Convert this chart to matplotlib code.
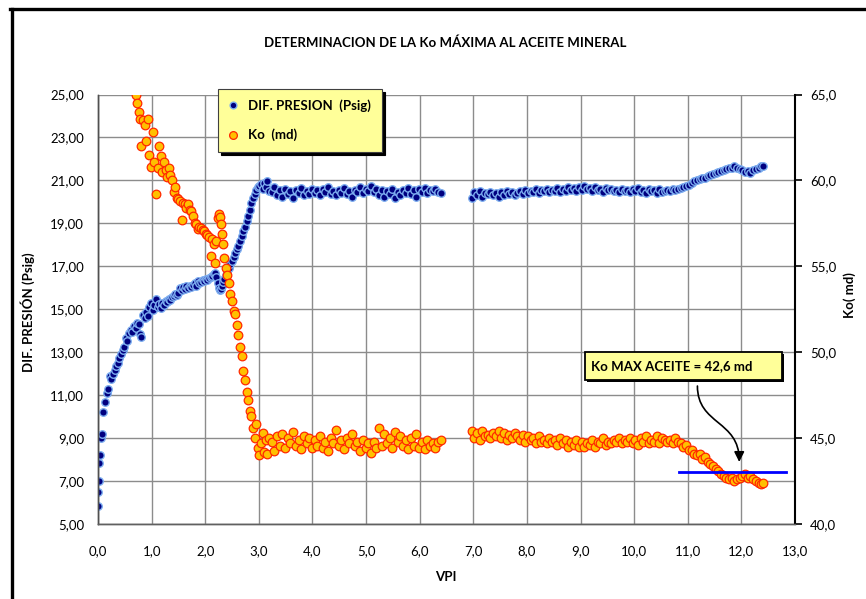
import matplotlib
matplotlib.use("Agg")
import matplotlib.pyplot as plt
from matplotlib.lines import Line2D
from matplotlib.patches import Rectangle, FancyArrowPatch
from matplotlib.path import Path
from matplotlib.ticker import FuncFormatter, FixedLocator

nan = float("nan")

# --- datos ---
# tramo 1 (0 - 6,4 VPI)
vpi_a = [
    0.00, 0.005, 0.01, 0.02, 0.03, 0.05, 0.07, 0.10, 0.13, 0.16,
    0.19, 0.22, 0.25, 0.28, 0.31, 0.34, 0.37, 0.40, 0.43, 0.46,
    0.49, 0.52, 0.55, 0.58, 0.61, 0.64, 0.67, 0.70, 0.73, 0.76,
    0.79, 0.81, 0.84, 0.87, 0.90, 0.93, 0.96, 0.99, 1.02, 1.05,
    1.08, 1.11, 1.14, 1.17, 1.20, 1.23, 1.26, 1.29, 1.32, 1.35,
    1.38, 1.41, 1.44, 1.47, 1.50, 1.53, 1.56, 1.59, 1.62, 1.65,
    1.68, 1.71, 1.74, 1.77, 1.80, 1.83, 1.86, 1.89, 1.92, 1.95,
    1.98, 2.01, 2.04, 2.07, 2.10, 2.13, 2.16, 2.19, 2.21, 2.23,
    2.25, 2.27, 2.29, 2.31, 2.33, 2.35, 2.38, 2.41, 2.44, 2.47,
    2.50, 2.53, 2.56, 2.59, 2.62, 2.65, 2.68, 2.71, 2.74, 2.77,
    2.80, 2.83, 2.86, 2.89, 2.92, 2.95, 2.98, 3.01, 3.04, 3.07,
    3.10, 3.13, 3.16, 3.19, 3.24, 3.29, 3.34, 3.39, 3.44, 3.49,
    3.54, 3.59, 3.64, 3.69, 3.74, 3.79, 3.84, 3.89, 3.94, 3.99,
    4.04, 4.09, 4.14, 4.19, 4.24, 4.29, 4.34, 4.39, 4.44, 4.49,
    4.54, 4.59, 4.64, 4.69, 4.74, 4.79, 4.84, 4.89, 4.94, 4.99,
    5.04, 5.09, 5.14, 5.19, 5.24, 5.29, 5.34, 5.39, 5.44, 5.49,
    5.54, 5.59, 5.64, 5.69, 5.74, 5.79, 5.84, 5.89, 5.94, 5.99,
    6.04, 6.09, 6.14, 6.19, 6.24, 6.29, 6.34, 6.39,
]
dp_a = [
    5.85, 6.5, 7.0, 7.85, 8.2, 9.0, 9.2, 10.2, 10.7, 11.1,
    11.3, 11.9, 11.75, 12.0, 12.15, 12.35, 12.5, 12.75, 12.9, 13.1,
    13.25, 13.65, 13.5, 13.9, 14.05, 13.95, 14.2, 14.15, 14.35, 14.3,
    13.85, 13.7, 14.75, 14.6, 14.85, 14.7, 15.1, 15.3, 14.95, 15.2,
    15.5, 15.1, 15.25, 15.05, 15.3, 15.2, 15.4, 15.35, 15.5, 15.45,
    15.55, 15.6, 15.7, 15.65, 15.75, 16.0, 15.9, 16.05, 15.95, 16.1,
    16.0, 16.1, 16.05, 16.15, 16.2, 16.1, 16.3, 16.2, 16.25, 16.35,
    16.3, 16.4, 16.35, 16.45, 16.5, 16.55, 16.65, 16.7, 16.5, 16.2,
    16.0, 15.9, 15.95, 16.1, 16.25, 16.4, 16.6, 16.75, 16.9, 17.1,
    17.25, 17.45, 17.6, 17.8, 17.95, 18.2, 18.4, 18.65, 18.85, 19.1,
    19.35, 19.6, 19.95, 20.2, 20.35, 20.55, 20.7, 20.75, 20.85, 20.6,
    20.9, 20.7, 20.95, 20.5, 20.45, 20.7, 20.3, 20.55, 20.25, 20.6,
    20.35, 20.5, 20.2, 20.55, 20.4, 20.65, 20.3, 20.5, 20.35, 20.6,
    20.4, 20.55, 20.3, 20.6, 20.45, 20.7, 20.35, 20.5, 20.3, 20.55,
    20.4, 20.65, 20.35, 20.5, 20.25, 20.55, 20.45, 20.7, 20.4, 20.6,
    20.5, 20.75, 20.45, 20.6, 20.3, 20.55, 20.25, 20.5, 20.35, 20.6,
    20.2, 20.45, 20.3, 20.55, 20.4, 20.65, 20.35, 20.55, 20.25, 20.6,
    20.45, 20.65, 20.4, 20.55, 20.5, 20.6, 20.45, 20.4,
]
ko_a = [
    nan, nan, nan, nan, nan, nan, nan, nan, nan, nan,
    nan, nan, nan, nan, nan, nan, nan, nan, nan, nan,
    nan, nan, nan, nan, nan, nan, nan, 65.0, 64.5, 64.0,
    63.6, 62.0, 63.5, 63.2, 62.3, 63.6, 61.5, 60.8, 62.8, 61.1,
    59.2, 60.7, 62.0, 61.4, 60.5, 61.1, 60.6, 60.2, 60.7, 60.3,
    60.0, 59.3, 59.6, 59.0, 58.9, 58.8, 57.7, 58.7, 58.6, 58.4,
    58.6, 58.3, 58.2, 57.9, 57.5, 57.45, 57.2, 57.3, 57.25, 57.1,
    57.05, 56.9, 56.8, 56.7, 55.6, 56.6, 56.3, 55.2, 56.5, 57.8,
    58.05, 57.85, 57.45, 56.9, 56.3, 55.5, 54.9, 54.5, 54.0, 53.4,
    53.0, 52.4, 52.2, 51.6, 51.0, 50.3, 49.8, 48.9, 48.4, 47.7,
    47.2, 46.6, 46.3, 45.6, 45.0, 45.8, 44.4, 44.0, 44.7, 45.3,
    44.2, 44.9, 44.1, 45.0, 44.8, 44.25, 45.1, 44.55, 45.25, 44.45,
    45.0, 44.7, 45.35, 44.55, 44.9, 44.35, 45.1, 44.7, 45.0, 44.45,
    44.9, 44.55, 45.1, 44.45, 44.8, 44.25, 45.0, 44.7, 45.5, 44.55,
    44.9, 44.35, 45.0, 44.7, 45.25, 44.55, 44.8, 44.25, 44.9, 44.45,
    44.7, 44.15, 44.8, 44.45, 45.6, 44.55, 45.25, 44.7, 45.0, 44.45,
    45.35, 44.8, 45.1, 44.55, 44.9, 44.35, 45.0, 44.55, 45.25, 44.45,
    44.8, 44.35, 44.9, 44.55, 44.7, 44.45, 44.8, 44.9,
]

# tramo 2 (7,0 - 12,4 VPI)
vpi_b = [
    6.97, 7.02, 7.07, 7.12, 7.17, 7.22, 7.27, 7.32, 7.37, 7.42,
    7.47, 7.52, 7.57, 7.62, 7.67, 7.72, 7.77, 7.82, 7.87, 7.92,
    7.97, 8.02, 8.07, 8.12, 8.17, 8.22, 8.27, 8.32, 8.37, 8.42,
    8.47, 8.52, 8.57, 8.62, 8.67, 8.72, 8.77, 8.82, 8.87, 8.92,
    8.97, 9.02, 9.07, 9.12, 9.17, 9.22, 9.27, 9.32, 9.37, 9.42,
    9.47, 9.52, 9.57, 9.62, 9.67, 9.72, 9.77, 9.82, 9.87, 9.92,
    9.97, 10.02, 10.07, 10.12, 10.17, 10.22, 10.27, 10.32, 10.37, 10.42,
    10.47, 10.52, 10.57, 10.62, 10.67, 10.72, 10.77, 10.82, 10.87, 10.92,
    10.97, 11.02, 11.07, 11.12, 11.17, 11.22, 11.27, 11.32, 11.37, 11.42,
    11.47, 11.52, 11.57, 11.62, 11.67, 11.72, 11.77, 11.82, 11.87, 11.92,
    11.97, 12.02, 12.07, 12.12, 12.17, 12.22, 12.27, 12.32, 12.37, 12.41,
]
dp_b = [
    20.2, 20.45, 20.3, 20.5, 20.25, 20.4, 20.35, 20.45, 20.3, 20.4,
    20.25, 20.45, 20.3, 20.5, 20.35, 20.45, 20.3, 20.4, 20.5, 20.35,
    20.55, 20.4, 20.5, 20.45, 20.6, 20.4, 20.55, 20.5, 20.6, 20.45,
    20.55, 20.5, 20.65, 20.45, 20.6, 20.5, 20.7, 20.55, 20.65, 20.5,
    20.7, 20.55, 20.75, 20.6, 20.65, 20.5, 20.7, 20.55, 20.6, 20.45,
    20.65, 20.55, 20.6, 20.5, 20.55, 20.45, 20.6, 20.5, 20.55, 20.45,
    20.6, 20.5, 20.65, 20.45, 20.55, 20.4, 20.6, 20.5, 20.55, 20.4,
    20.6, 20.45, 20.5, 20.55, 20.5, 20.6, 20.55, 20.6, 20.65, 20.7,
    20.75, 20.8, 20.9, 20.95, 21.0, 21.05, 21.1, 21.1, 21.2, 21.25,
    21.3, 21.35, 21.4, 21.45, 21.5, 21.55, 21.6, 21.6, 21.65, 21.6,
    21.55, 21.5, 21.4, 21.45, 21.35, 21.5, 21.55, 21.6, 21.65, 21.65,
]
ko_b = [
    45.4, 45.0, 45.3, 44.9, 45.4, 45.1, 45.2, 45.0, 45.3, 45.1,
    45.4, 45.0, 45.3, 44.9, 45.2, 45.0, 45.3, 45.1, 44.9, 45.2,
    44.8, 45.1, 44.9, 45.0, 44.7, 45.1, 44.8, 44.9, 44.7, 45.0,
    44.8, 44.9, 44.6, 45.0, 44.7, 44.9, 44.5, 44.8, 44.6, 44.9,
    44.5, 44.8, 44.5, 44.7, 44.6, 44.9, 44.5, 44.8, 44.7, 45.0,
    44.6, 44.8, 44.7, 44.9, 44.8, 45.0, 44.7, 44.9, 44.8, 45.0,
    44.7, 44.9, 44.6, 45.0, 44.8, 45.1, 44.7, 44.9, 44.8, 45.1,
    44.7, 45.0, 44.9, 44.8, 44.9, 44.7, 45.0, 44.8, 44.7, 44.5,
    44.6, 44.3, 44.3, 44.1, 44.0, 44.1, 43.8, 43.9, 43.6, 43.5,
    43.4, 43.2, 43.1, 42.9, 42.8, 42.7, 42.6, 42.7, 42.5, 42.6,
    42.7, 42.8, 42.9, 42.7, 42.8, 42.6, 42.5, 42.4, 42.3, 42.4,
]

# ejes
x_ticks = [0, 1, 2, 3, 4, 5, 6, 7, 8, 9, 10, 11, 12, 13]
dp_ticks = [5, 7, 9, 11, 13, 15, 17, 19, 21, 23, 25]
ko_ticks = [40, 45, 50, 55, 60, 65]

ko_max_x = [10.84, 12.83]
ko_max_y = 43.0
ko_max_txt = "Ko MAX ACEITE = 42,6 md"

# --- estilo ---
plt.rcParams["font.family"] = ["Lato", "DejaVu Sans"]
W, H = 866, 599
fig = plt.figure(figsize=(W / 100, H / 100), dpi=100)
ax = fig.add_axes([98 / W, 1 - 524 / H, 697 / W, 429.5 / H])
ax2 = ax.twinx()

azul, azul_borde = "#000080", "#7DAEF0"
naranja, naranja_borde = "#FFC000", "#FF2800"

l1, = ax.plot(vpi_a + vpi_b, dp_a + dp_b, ls="none", marker="o", ms=5.4,
              mfc=azul, mec=azul_borde, mew=1.0)
l2, = ax2.plot(vpi_a + vpi_b, ko_a + ko_b, ls="none", marker="o", ms=6.2,
               mfc=naranja, mec=naranja_borde, mew=0.9)

ax.set_xlim(x_ticks[0], x_ticks[-1])
ax.set_ylim(dp_ticks[0], dp_ticks[-1])
ax2.set_ylim(ko_ticks[0], ko_ticks[-1])
ax.xaxis.set_major_locator(FixedLocator(x_ticks))
ax.yaxis.set_major_locator(FixedLocator(dp_ticks))
ax2.yaxis.set_major_locator(FixedLocator(ko_ticks))
ax.xaxis.set_major_formatter(FuncFormatter(lambda v, p: f"{v:.1f}".replace(".", ",")))
ax.yaxis.set_major_formatter(FuncFormatter(lambda v, p: f"{v:.2f}".replace(".", ",")))
ax2.yaxis.set_major_formatter(FuncFormatter(lambda v, p: f"{v:.1f}".replace(".", ",")))

ax.grid(True, color="#8C8C8C", lw=1.0)
ax.set_axisbelow(True)
ax.tick_params(axis="both", length=0, labelsize=9.5, colors="black")
ax.tick_params(axis="y", pad=10)
ax.tick_params(axis="x", pad=15)
ax2.tick_params(axis="y", direction="out", length=5, width=1.2, labelsize=9.5, pad=6)

for a in (ax, ax2):
    a.spines["top"].set_visible(False)
    a.spines["left"].set_color("#505050")
    a.spines["bottom"].set_color("#606060")
    a.spines["left"].set_linewidth(1.0)
    a.spines["bottom"].set_linewidth(1.0)
ax2.spines["right"].set_color("black")
ax2.spines["right"].set_linewidth(1.5)
ax.spines["right"].set_visible(False)

fig.text(445 / W, 1 - 43 / H, "DETERMINACION DE LA Ko MÁXIMA AL ACEITE MINERAL",
         ha="center", va="center", fontsize=9.5, fontweight="bold")
fig.text(28 / W, 1 - 312 / H, "DIF. PRESIÓN (Psig)", rotation=90,
         ha="center", va="center", fontsize=9.5, fontweight="bold")
fig.text(850 / W, 1 - 295 / H, "Ko( md)", rotation=90,
         ha="center", va="center", fontsize=9.5, fontweight="bold")
fig.text(446 / W, 1 - 577 / H, "VPI", ha="center", va="center",
         fontsize=9.5, fontweight="bold")

# leyenda
leg = ax2.legend([l1, l2], ["DIF. PRESION  (Psig)", "Ko  (md)"],
                 loc="upper left", bbox_to_anchor=(218 / W, 1 - 89 / H),
                 bbox_transform=fig.transFigure, frameon=True, fancybox=False,
                 facecolor="#FFFF99", edgecolor="#404040", framealpha=1,
                 shadow={"color": "black", "alpha": 1},
                 prop={"weight": "bold", "size": 9.5}, handlelength=0.7,
                 handletextpad=0.8, borderpad=0.8, labelspacing=1.25,
                 borderaxespad=0, markerscale=0.9)
leg.get_frame().set_linewidth(0.8)

# linea Ko max y cuadro de texto
ax2.plot(ko_max_x, [ko_max_y, ko_max_y], color="#0000FF", lw=2.0, zorder=5)
fig.add_artist(Rectangle((587 / W, 1 - 382 / H), 197 / W, 28 / H,
                         transform=fig.transFigure, fc="black", ec="none"))
fig.add_artist(Rectangle((585 / W, 1 - 380 / H), 197 / W, 28 / H,
                         transform=fig.transFigure, fc="#FFFF99", ec="black", lw=1.3))
fig.text(591 / W, 1 - 366 / H, ko_max_txt, ha="left", va="center",
         fontsize=9.5, fontweight="bold")

ruta = Path([(11.18, 48.03), (11.18, 45.76), (11.96, 46.05), (11.96, 43.61)],
            [Path.MOVETO, Path.CURVE4, Path.CURVE4, Path.CURVE4])
ax2.add_patch(FancyArrowPatch(path=ruta, arrowstyle="-|>,head_length=0.6,head_width=0.3",
                              mutation_scale=10, color="black", lw=1.2, zorder=6))

# marco del grafico
fig.add_artist(Line2D([11.5 / W, 11.5 / W], [0, 1 - 9 / H], color="black", lw=2.4,
                      transform=fig.transFigure))
fig.add_artist(Line2D([10.3 / W, 1], [1 - 9 / H, 1 - 9 / H], color="black", lw=2.4,
                      transform=fig.transFigure))

fig.savefig("out.png", dpi=100)
